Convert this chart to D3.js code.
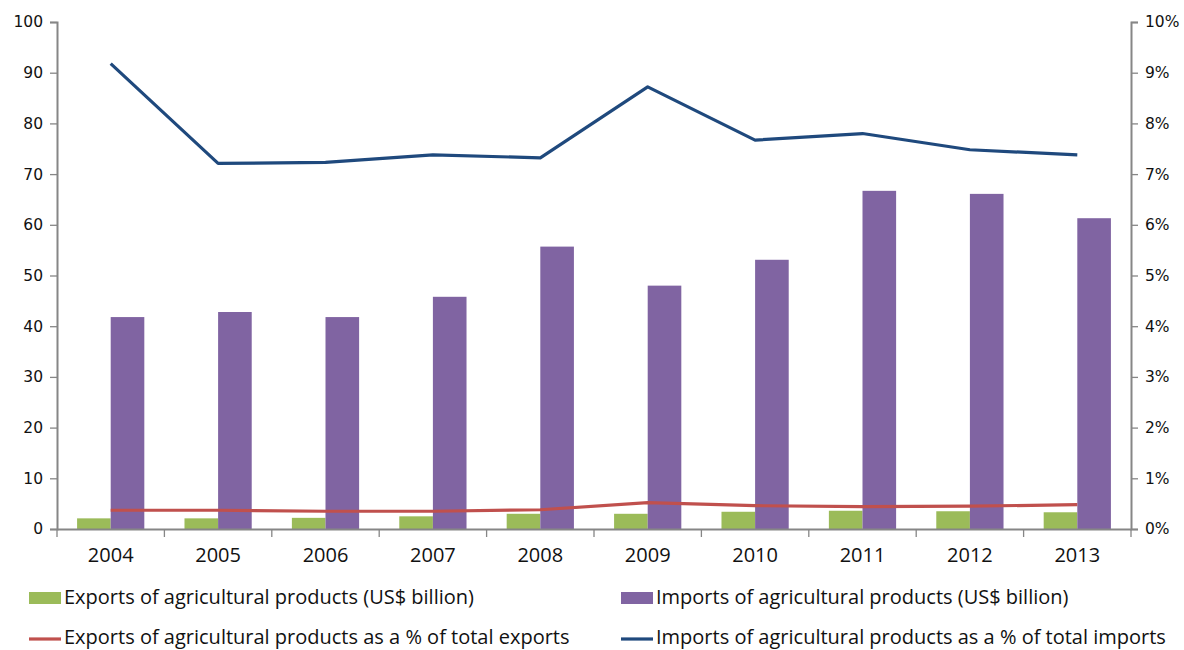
<!DOCTYPE html>
<html>
<head>
<meta charset="utf-8">
<script src="https://cdn.jsdelivr.net/npm/d3@7"></script>
<style>
  html, body { margin: 0; padding: 0; background: #fff; }
  svg { display: block; }
</style>
</head>
<body>
<svg id="chart" width="1184" height="650"></svg>
<script>
// Agricultural trade, 2004–2013
const years = ["2004","2005","2006","2007","2008","2009","2010","2011","2012","2013"];
const exportsBn = [2.1, 2.1, 2.2, 2.5, 3.0, 3.0, 3.4, 3.6, 3.5, 3.3];
const importsBn = [41.8, 42.8, 41.8, 45.8, 55.7, 48.0, 53.1, 66.7, 66.1, 61.3];
const exportsPct = [0.37, 0.37, 0.35, 0.35, 0.38, 0.52, 0.46, 0.44, 0.45, 0.48];
const importsPct = [9.18, 7.21, 7.23, 7.38, 7.32, 8.72, 7.67, 7.80, 7.48, 7.38];
const leftTicks = [0, 10, 20, 30, 40, 50, 60, 70, 80, 90, 100];
const rightTicks = [0, 1, 2, 3, 4, 5, 6, 7, 8, 9, 10];
const legendLabels = [
  "Exports of agricultural products (US$ billion)",
  "Imports of agricultural products (US$ billion)",
  "Exports of agricultural products as a % of total exports",
  "Imports of agricultural products as a % of total imports"
];

const colors = { green: "#9bbb59", purple: "#8064a2", red: "#c0504d", blue: "#1f497d", axis: "#868686" };

const svg = d3.select("#chart");
const m = { left: 57, right: 1131, top: 22, bottom: 529 };

const x = d3.scaleBand().domain(years).range([m.left, m.right]).paddingInner(0).paddingOuter(0);
const yL = d3.scaleLinear().domain([0, 100]).range([m.bottom, m.top]);
const yR = d3.scaleLinear().domain([0, 10]).range([m.bottom, m.top]);

const barW = x.bandwidth() * 0.313;
const center = d => x(d) + x.bandwidth() / 2;

// bars
svg.append("g").selectAll("rect").data(years).join("rect")
  .attr("x", (d) => center(d) - barW)
  .attr("y", (d, i) => yL(exportsBn[i]))
  .attr("width", barW)
  .attr("height", (d, i) => yL(0) - yL(exportsBn[i]))
  .attr("fill", colors.green);

svg.append("g").selectAll("rect").data(years).join("rect")
  .attr("x", (d) => center(d))
  .attr("y", (d, i) => yL(importsBn[i]))
  .attr("width", barW)
  .attr("height", (d, i) => yL(0) - yL(importsBn[i]))
  .attr("fill", colors.purple);

// axes
const axisFont = "DejaVu Sans, Verdana, sans-serif";
const textFont = "'Open Sans', sans-serif";
const gL = svg.append("g").attr("transform", `translate(${m.left},0)`)
  .call(d3.axisLeft(yL).tickValues(leftTicks).tickSize(7).tickPadding(7));
const gR = svg.append("g").attr("transform", `translate(${m.right},0)`)
  .call(d3.axisRight(yR).tickValues(rightTicks).tickSize(7).tickPadding(7).tickFormat(d => d + "%"));
[gL, gR].forEach(g => {
  g.selectAll(".domain").attr("stroke", colors.axis).attr("stroke-width", 2);
  g.selectAll(".tick line").attr("stroke", colors.axis).attr("stroke-width", 1.3);
  g.selectAll("text").attr("font-family", axisFont).attr("font-size", 15.5).attr("fill", "#111");
});

const gX = svg.append("g").attr("transform", `translate(0,${m.bottom})`)
  .call(d3.axisBottom(x).tickSize(0).tickPadding(19));
gX.select(".domain").attr("stroke", colors.axis).attr("stroke-width", 2);
gX.selectAll("text").attr("font-family", textFont).attr("font-size", 20).attr("fill", "#111");
// tick marks at category boundaries
const bounds = years.map(d => x(d)).concat([m.right]);
svg.append("g").selectAll("line").data(bounds).join("line")
  .attr("x1", d => d).attr("x2", d => d)
  .attr("y1", m.bottom).attr("y2", m.bottom + 8)
  .attr("stroke", colors.axis).attr("stroke-width", 1.3);

// lines on the right axis
const line = vals => d3.line()
  .x((d, i) => center(years[i]))
  .y(d => yR(d))(vals);

svg.append("path").attr("d", line(exportsPct))
  .attr("fill", "none").attr("stroke", colors.red).attr("stroke-width", 3.2)
  .attr("stroke-linejoin", "round");
svg.append("path").attr("d", line(importsPct))
  .attr("fill", "none").attr("stroke", colors.blue).attr("stroke-width", 3.2)
  .attr("stroke-linejoin", "round");

// legend (y is the text baseline)
const legend = [
  { x: 29, y: 604, type: "rect", color: colors.green, label: legendLabels[0] },
  { x: 621, y: 604, type: "rect", color: colors.purple, label: legendLabels[1] },
  { x: 29, y: 644, type: "line", color: colors.red, label: legendLabels[2] },
  { x: 621, y: 644, type: "line", color: colors.blue, label: legendLabels[3] }
];
const lg = svg.append("g").selectAll("g").data(legend).join("g")
  .attr("transform", d => `translate(${d.x},${d.y})`);
lg.filter(d => d.type === "rect").append("rect")
  .attr("x", 0).attr("y", -12).attr("width", 32).attr("height", 12)
  .attr("fill", d => d.color);
lg.filter(d => d.type === "line").append("line")
  .attr("x1", 0).attr("x2", 32).attr("y1", -5).attr("y2", -5)
  .attr("stroke", d => d.color).attr("stroke-width", 3.2);
lg.append("text")
  .attr("x", 35).attr("y", 0)
  .attr("font-family", textFont).attr("font-size", 20).attr("fill", "#111")
  .text(d => d.label);
</script>
</body>
</html>
